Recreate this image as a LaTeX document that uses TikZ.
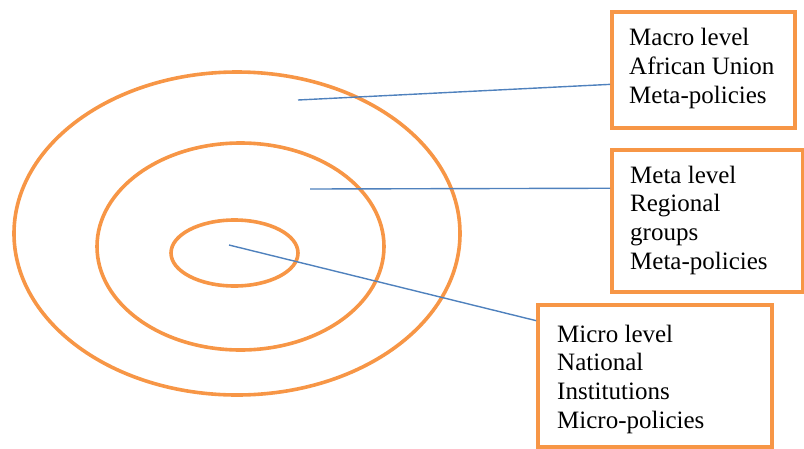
\documentclass[tikz,border=0pt]{standalone}
\usepackage{fontspec}
\setmainfont{Liberation Serif}
\usetikzlibrary{calc,shapes.geometric}
\definecolor{ring}{HTML}{F79646}
\definecolor{lead}{HTML}{4F81BD}
\tikzset{
  ringline/.style={draw=ring, line width=3.6pt},
  levelbox/.style={draw=ring, line width=3.6pt, rectangle, inner sep=0pt},
  boxtext/.style={anchor=base west, align=left, inner sep=0pt, font=\fontsize{25}{28.6}\selectfont},
  leader/.style={draw=lead, line width=1.4pt}
}
\begin{document}
\begin{tikzpicture}[x=1pt,y=-1pt]
\useasboundingbox (0,0) rectangle (804,448);
% rings
\node[ringline, ellipse, minimum width=446pt, minimum height=323pt, inner sep=0pt] (outer) at (237,233.5) {};
\node[ringline, ellipse, minimum width=287pt, minimum height=207pt, inner sep=0pt] (middle) at (240.5,246.5) {};
\node[ringline, ellipse, minimum width=127pt, minimum height=66pt, inner sep=0pt] (inner) at (234.5,253) {};
% boxes
\node[levelbox, minimum width=183pt, minimum height=116pt] (b1) at (703.5,70) {};
\node[levelbox, minimum width=191pt, minimum height=142pt] (b2) at (707.5,221) {};
\node[levelbox, minimum width=234pt, minimum height=142pt] (b3) at (655,376) {};
% texts (anchored at baseline of last line)
\node[boxtext] (t1) at (629,103) {Macro level\\African Union\\Meta-policies};
\node[boxtext] (t2) at (630,269) {Meta level\\Regional\\groups\\Meta-policies};
\node[boxtext] (t3) at (557,428) {Micro level\\National\\Institutions\\Micro-policies};
% leader anchors
\coordinate (p1) at (298,100);
\coordinate (p2) at (310,189);
\coordinate (p3) at (229,245);
\draw[leader] (p1) -- ($(b1.north west)!0.62!(b1.south west)$);
\draw[leader] (p2) -- ($(b2.north west)!0.275!(b2.south west)$);
\draw[leader] (p3) -- ($(b3.north west)!0.12!(b3.south west)$);
\end{tikzpicture}
\end{document}
